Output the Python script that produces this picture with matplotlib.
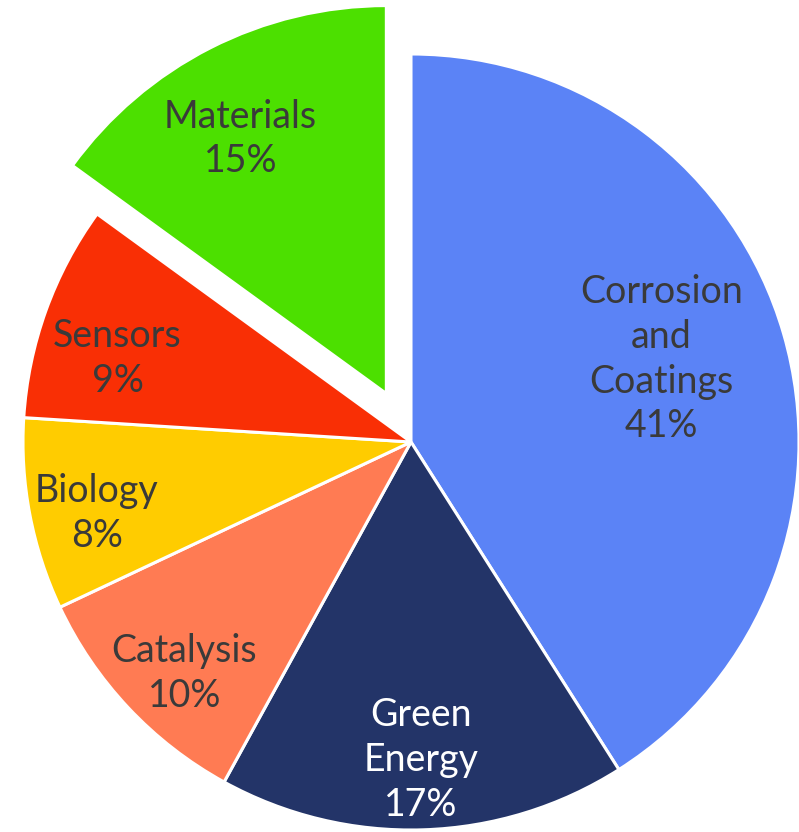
import numpy as np
import matplotlib
matplotlib.use("Agg")
import matplotlib.pyplot as plt

categories = ["Corrosion\nand\nCoatings", "Green\nEnergy", "Catalysis", "Biology", "Sensors", "Materials"]
shares = [41, 17, 10, 8, 9, 15]
colors = ["#5B83F6", "#233468", "#FF7B53", "#FFCC00", "#F92F05", "#4CE000"]
text_colors = ["#3A3A3A", "#FFFFFF", "#3A3A3A", "#3A3A3A", "#3A3A3A", "#3A3A3A"]
explode = [0, 0, 0, 0, 0, 0.14]
label_dist = [0.68, 0.815, 0.83, 0.83, 0.79, 0.76]
# small nudges of the labels, in pixels (right, down)
nudge_px = [(-3, -9), (0, 2), (8, 11), (2, 11), (-5, 20), (-12, 8)]

plt.rcParams['font.family'] = ['Lato', 'DejaVu Sans']

fig = plt.figure(figsize=(7.99, 8.32), dpi=100)
ax = fig.add_axes([0, 0, 1, 1])

wedges, _ = ax.pie(shares, colors=colors, explode=explode, startangle=90,
                   counterclock=False, radius=1,
                   wedgeprops=dict(edgecolor="white", linewidth=2.2))

#labels inside wedges
for w, cat, val, tc, d, (nx, ny) in zip(wedges, categories, shares, text_colors, label_dist, nudge_px):
    mid = np.deg2rad((w.theta1 + w.theta2) / 2)
    cx, cy = w.center
    ax.annotate(f"{cat}\n{val}%", (cx + d * np.cos(mid), cy + d * np.sin(mid)),
                xytext=(nx * 0.72, -ny * 0.72), textcoords="offset points",
                ha="center", va="center", fontsize=27, color=tc,
                fontweight="normal", linespacing=1.3)

ax.set_xlim(-411 / 388, (799 - 411) / 388)
ax.set_ylim(-(832 - 442) / 388, 442 / 388)
ax.set_aspect("auto")
ax.axis("off")

fig.savefig("out.png", dpi=100)
